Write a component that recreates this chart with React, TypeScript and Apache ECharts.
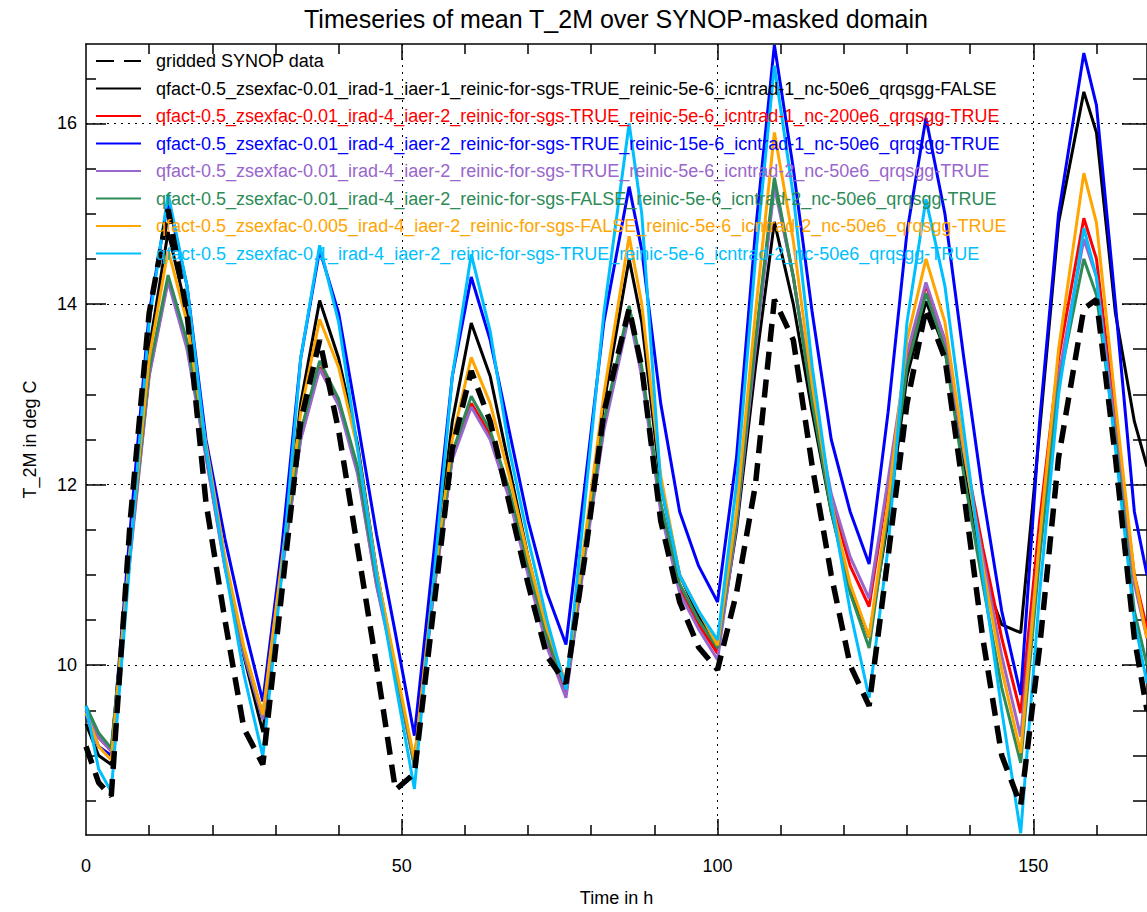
import React, { useEffect, useRef } from "react";
import * as echarts from "echarts";

const hours = [0, 2, 4, 7, 10, 13, 16, 19, 22, 25, 28, 31, 34, 37, 40, 43, 46, 49, 52, 55, 58, 61, 64, 67, 70, 73, 76, 79, 82, 86, 88, 91, 94, 97, 100, 103, 106, 109, 112, 115, 118, 121, 124, 127, 130, 133, 136, 139, 142, 145, 148, 151, 154, 158, 160, 163, 166, 168];

const synop = [9.1, 8.7, 8.55, 11.6, 13.9, 15.05, 13.9, 11.8, 10.5, 9.3, 8.9,
  10.8, 12.7, 13.6, 12.6, 11.3, 10.0, 8.62, 8.8,
  10.6, 12.4, 13.26, 12.7, 11.8, 10.9, 10.1, 9.8,
  11.2, 12.8, 13.95, 13.3, 11.6, 10.7, 10.2, 9.95,
  10.8, 12.0, 14.05, 13.6, 12.2, 11.0, 10.0, 9.55,
  11.2, 12.9, 13.95, 13.4, 11.9, 10.3, 9.0, 8.45,
  10.2, 12.3, 13.95, 14.05, 12.3, 10.3, 9.5];

const black = [9.35, 9.0, 8.9, 11.3, 13.5, 14.8, 13.9, 12.45, 11.15, 10.1, 9.26,
  11.05, 12.9, 14.04, 13.4, 12.45, 11.05, 9.95, 8.92,
  10.95, 12.7, 13.79, 13.2, 12.2, 11.2, 10.35, 9.75,
  11.35, 12.9, 14.5, 13.8, 12.0, 11.0, 10.55, 10.15,
  11.5, 13.3, 14.91, 14.0, 12.8, 11.7, 10.85, 10.31,
  11.6, 13.2, 14.03, 13.5, 12.2, 11.0, 10.45, 10.36,
  12.6, 14.9, 16.35, 15.9, 13.9, 12.7, 12.2];

const red = [9.5, 9.2, 9.05, 11.25, 13.22, 14.28, 13.55, 12.33, 11.1, 10.15, 9.42,
  11.05, 12.52, 13.3, 12.9, 12.15, 10.9, 9.95, 8.9,
  10.8, 12.3, 12.9, 12.55, 11.9, 11.05, 10.25, 9.68,
  11.25, 12.65, 13.93, 13.25, 11.75, 10.85, 10.45, 10.13,
  11.6, 13.55, 15.35, 14.3, 12.95, 11.85, 11.1, 10.65,
  12.0, 13.4, 14.21, 13.6, 12.4, 11.3, 10.3, 9.47,
  11.6, 13.4, 14.95, 14.5, 12.7, 11.0, 10.4];

const blue = [9.45, 9.1, 9.0, 11.5, 13.9, 15.15, 14.2, 12.5, 11.4, 10.45, 9.6,
  11.3, 13.4, 14.6, 13.9, 12.7, 11.45, 10.35, 9.22,
  11.2, 13.2, 14.3, 13.6, 12.6, 11.6, 10.8, 10.23,
  12.0, 13.8, 15.3, 14.6, 12.9, 11.7, 11.1, 10.7,
  12.3, 14.8, 16.87, 15.5, 13.9, 12.5, 11.7, 11.12,
  12.8, 14.8, 16.06, 15.0, 13.4, 11.9, 10.6, 9.67,
  12.7, 15.0, 16.78, 16.2, 14.0, 11.7, 11.0];

const purple = [9.5, 9.2, 9.05, 11.2, 13.2, 14.25, 13.5, 12.3, 11.08, 10.12, 9.4,
  11.02, 12.5, 13.28, 12.88, 12.12, 10.88, 9.92, 8.88,
  10.78, 12.28, 12.86, 12.5, 11.85, 11.0, 10.2, 9.64,
  11.2, 12.6, 13.88, 13.2, 11.7, 10.8, 10.4, 10.06,
  11.55, 13.5, 15.3, 14.3, 13.0, 11.9, 11.2, 10.74,
  12.05, 13.45, 14.24, 13.6, 12.35, 11.2, 10.1, 9.21,
  11.4, 13.2, 14.72, 14.3, 12.6, 10.9, 10.3];

const green = [9.55, 9.25, 9.08, 11.28, 13.27, 14.32, 13.59, 12.37, 11.15, 10.18, 9.45,
  11.1, 12.59, 13.37, 12.95, 12.2, 10.95, 9.95, 8.9,
  10.85, 12.35, 12.98, 12.6, 11.95, 11.1, 10.3, 9.75,
  11.3, 12.7, 13.98, 13.3, 11.8, 10.9, 10.5, 10.19,
  11.6, 13.6, 15.4, 14.3, 12.9, 11.7, 10.8, 10.19,
  11.7, 13.3, 14.12, 13.5, 12.1, 10.9, 9.75, 8.92,
  11.2, 13.1, 14.5, 14.1, 12.5, 10.6, 10.0];

const orange = [9.47, 9.1, 8.95, 11.3, 13.4, 14.6, 13.8, 12.45, 11.2, 10.2, 9.45,
  11.15, 12.8, 13.83, 13.3, 12.4, 11.05, 10.0, 8.95,
  10.9, 12.5, 13.41, 12.9, 12.1, 11.2, 10.4, 9.8,
  11.4, 13.0, 14.75, 14.0, 12.1, 11.0, 10.6, 10.22,
  11.7, 13.9, 15.9, 14.7, 13.1, 11.8, 10.9, 10.31,
  11.8, 13.6, 14.5, 13.8, 12.4, 11.1, 9.95, 9.03,
  11.4, 13.5, 15.45, 14.9, 12.9, 11.0, 10.3];

const cyan = [9.55, 8.85, 8.6, 11.2, 13.8, 15.22, 14.2, 12.4, 11.1, 9.9, 8.99,
  11.0, 13.4, 14.65, 13.8, 12.4, 11.0, 9.8, 8.63,
  10.9, 13.2, 14.55, 13.7, 12.4, 11.4, 10.5, 9.73,
  11.8, 13.9, 16.0, 15.0, 12.0, 11.0, 10.6, 10.28,
  12.0, 14.5, 16.64, 15.2, 13.3, 11.8, 10.6, 9.64,
  11.3, 13.8, 15.16, 14.2, 12.6, 11.0, 9.5, 8.14,
  10.8, 13.0, 14.84, 14.3, 12.4, 10.5, 9.8];

const seriesNames = [
  "gridded SYNOP data",
  "qfact-0.5_zsexfac-0.01_irad-1_iaer-1_reinic-for-sgs-TRUE_reinic-5e-6_icntrad-1_nc-50e6_qrqsgg-FALSE",
  "qfact-0.5_zsexfac-0.01_irad-4_iaer-2_reinic-for-sgs-TRUE_reinic-5e-6_icntrad-1_nc-200e6_qrqsgg-TRUE",
  "qfact-0.5_zsexfac-0.01_irad-4_iaer-2_reinic-for-sgs-TRUE_reinic-15e-6_icntrad-1_nc-50e6_qrqsgg-TRUE",
  "qfact-0.5_zsexfac-0.01_irad-4_iaer-2_reinic-for-sgs-TRUE_reinic-5e-6_icntrad-2_nc-50e6_qrqsgg-TRUE",
  "qfact-0.5_zsexfac-0.01_irad-4_iaer-2_reinic-for-sgs-FALSE_reinic-5e-6_icntrad-2_nc-50e6_qrqsgg-TRUE",
  "qfact-0.5_zsexfac-0.005_irad-4_iaer-2_reinic-for-sgs-FALSE_reinic-5e-6_icntrad-2_nc-50e6_qrqsgg-TRUE",
  "qfact-0.5_zsexfac-0.1_irad-4_iaer-2_reinic-for-sgs-TRUE_reinic-5e-6_icntrad-2_nc-50e6_qrqsgg-TRUE",
];
const seriesColors = ["#000000", "#000000", "#ff0000", "#0000ff", "#9966cc", "#2e8b57", "#ffa500", "#00bfff"];
const seriesValues = [synop, black, red, blue, purple, green, orange, cyan];

const xLabelValues = [0, 50, 100, 150];
const xMajorTicks = [50, 100, 150];
const xMinorTicks = [10, 20, 30, 40, 60, 70, 80, 90, 110, 120, 130, 140, 160];
const yLabelValues = [10, 12, 14, 16];
const yMinorTicks = [8.5, 9, 9.5, 10.5, 11, 11.5, 12.5, 13, 13.5, 14.5, 15, 15.5, 16.5];

const X_MIN = 0, X_MAX = 168, Y_MIN = 8.12, Y_MAX = 16.88;
const FONT = "Liberation Sans";

export default function App() {
  const ref = useRef<HTMLDivElement>(null);
  useEffect(() => {
    const chart = echarts.init(ref.current!, null, { renderer: "svg" });
    const lineC = { color: "#000", width: 1.5 };
    const dotted = { color: "#000", width: 1, type: [2, 5] as number[] };
    const mkX = (position: string, showLine: boolean, ticks: number[], len: number, extra: any = {}) => ({
      type: "value", position, min: X_MIN, max: X_MAX,
      axisLine: { show: showLine, onZero: false, lineStyle: lineC },
      axisTick: { show: true, inside: true, length: len, customValues: ticks, lineStyle: lineC },
      axisLabel: { show: false },
      splitLine: { show: false },
      ...extra,
    });
    const mkY = (position: string, showLine: boolean, ticks: number[], len: number, extra: any = {}) => ({
      type: "value", position, min: Y_MIN, max: Y_MAX,
      axisLine: { show: showLine, onZero: false, lineStyle: lineC },
      axisTick: { show: true, inside: true, length: len, customValues: ticks, lineStyle: lineC },
      axisLabel: { show: false },
      splitLine: { show: false },
      ...extra,
    });
    const option: any = {
      animation: false,
      backgroundColor: "#ffffff",
      title: {
        text: "Timeseries of mean T_2M over SYNOP-masked domain",
        left: 304, top: 6, padding: 0,
        textStyle: { fontSize: 25, fontWeight: "normal", color: "#000", fontFamily: FONT },
      },
      grid: { left: 86, top: 44, width: 1067, height: 794, containLabel: false },
      legend: {
        orient: "vertical", left: 95, top: 51, padding: 0,
        itemWidth: 45, itemHeight: 14, itemGap: 7.5,
        selectedMode: false,
        itemStyle: { opacity: 0 },
        textStyle: { fontSize: 18, fontFamily: FONT, lineHeight: 20, padding: [0, 0, 0, 10] },
        data: seriesNames.map((n, i) => ({ name: n, textStyle: { color: seriesColors[i] } })),
      },
      xAxis: [
        mkX("bottom", true, xMajorTicks, 16, {
          axisLabel: { show: true, customValues: xLabelValues, color: "#000", fontSize: 18, fontFamily: FONT, margin: 22 },
          splitLine: { show: true, lineStyle: dotted },
          name: "Time in h", nameLocation: "middle", nameGap: 54,
          nameTextStyle: { fontSize: 18, color: "#000", fontFamily: FONT },
        }),
        mkX("bottom", false, xMinorTicks, 10),
        mkX("top", true, xMajorTicks, 16),
        mkX("top", false, xMinorTicks, 10),
      ],
      yAxis: [
        mkY("left", true, yLabelValues, 20, {
          axisLabel: { show: true, customValues: yLabelValues, color: "#000", fontSize: 18, fontFamily: FONT, margin: 9 },
          splitLine: { show: true, lineStyle: dotted },
          name: "T_2M in deg C", nameLocation: "middle", nameRotate: 90, nameGap: 47,
          nameTextStyle: { fontSize: 18, color: "#000", fontFamily: FONT },
        }),
        mkY("left", false, yMinorTicks, 10),
        mkY("right", true, yLabelValues, 25),
        mkY("right", false, yMinorTicks, 14),
      ],
      series: seriesNames.map((n, i) => ({
        name: n,
        type: "line",
        xAxisIndex: 0,
        yAxisIndex: 0,
        data: hours.map((h, k) => [h, seriesValues[i][k]]),
        symbol: "none",
        showSymbol: false,
        z: i === 0 ? 3 : 2,
        itemStyle: { color: seriesColors[i] },
        lineStyle: i === 0
          ? { color: seriesColors[i], width: 5.5, type: [18, 10], cap: "butt" }
          : { color: seriesColors[i], width: 3 },
      })),
    };
    chart.setOption(option);
    return () => chart.dispose();
  }, []);
  return <div ref={ref} style={{ position: "fixed", left: 0, top: 0, width: 1147, height: 912 }} />;
}
